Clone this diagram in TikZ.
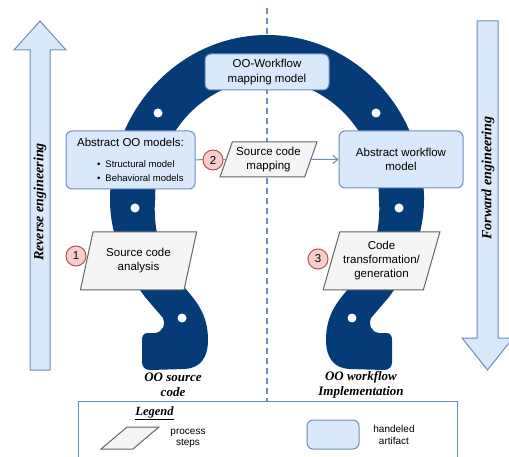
\documentclass[tikz,border=0pt]{standalone}
\usepackage{fontspec}
\setmainfont{Liberation Serif}
\setsansfont{Liberation Sans}
\usetikzlibrary{shapes.geometric,arrows.meta}
\definecolor{artFill}{HTML}{DAE8FC}
\definecolor{artLine}{HTML}{6C8EBF}
\definecolor{procFill}{HTML}{F5F5F5}
\definecolor{procLine}{HTML}{666666}
\definecolor{numFill}{HTML}{F8CECC}
\definecolor{numLine}{HTML}{B85450}
\definecolor{horse}{HTML}{053C78}
\newcommand\modelItem[1]{\fontsize{9.5}{12}\selectfont\hspace*{20pt}\textbullet\hspace{5pt}#1}
\tikzset{artifact/.style={draw=artLine, fill=artFill, rounded corners=6pt, line width=1pt,
        font=\sffamily\fontsize{11.5}{14}\selectfont, align=center},
    procstep/.style={trapezium, trapezium stretches=true, draw=procLine, fill=procFill,
        line width=1pt, inner sep=1pt, font=\sffamily\fontsize{11.5}{14}\selectfont, align=center},
    stepnum/.style={circle, draw=numLine, fill=numFill, line width=1pt, minimum size=20pt,
        inner sep=0pt, font=\sffamily\fontsize{11.5}{14}\selectfont},
    caption/.style={font=\bfseries\itshape\fontsize{13}{15}\selectfont, align=center},
    bigarrow/.style={draw=artLine, fill=artFill, line width=1pt},
    }

\begin{document}
\begin{tikzpicture}[x=1pt,y=-1pt]
	\fill[white] (0,0) rectangle (509,457);
	\useasboundingbox (0,0) rectangle (509,457);

	% reverse / forward arrows
	\draw[bigarrow] (30,370) -- (30,50) -- (14,50) -- (40,21) -- (66,50) -- (50,50) -- (50,370) -- cycle;
	\draw[bigarrow] (477,21) -- (498,21) -- (498,338) -- (513,338) -- (487.5,370) -- (462,338) -- (477,338) -- cycle;
	\node[caption, font=\bfseries\itshape\fontsize{14}{16}\selectfont, rotate=90] (revLabel) at (40,202) {Reverse engineering};
	\node[caption, font=\bfseries\itshape\fontsize{14}{16}\selectfont, rotate=90] (fwdLabel) at (488,178) {Forward engineering};

	% divider
	\draw[artLine, line width=1.4pt, dash pattern=on 6pt off 4pt] (267,8) -- (267,401);

	% horseshoe
	\fill[horse] (110,200) arc[start angle=180, end angle=0, x radius=157pt, y radius=165pt]
		-- (379,200) arc[start angle=0, end angle=180, x radius=112pt, y radius=120pt] -- cycle;
	\foreach \sh/\flip in {0/1, 534/-1}{
		\begin{scope}[xshift=\sh pt, xscale=\flip]
			\fill[horse] (110,196) -- (110,200) .. controls (110,235) and (125,270) .. (145,297)
				-- (163,318) .. controls (166,324) and (163,332) .. (155,333)
				-- (148,333) .. controls (143,333) and (142,336) .. (142,341)
				-- (142,362) .. controls (142,367) and (145,370) .. (150,370)
				-- (185,369) .. controls (200,368) and (208,358) .. (208,340)
				.. controls (208,315) and (197,302) .. (185,288)
				.. controls (162,258) and (153,235) .. (155,200) -- (155,196) -- cycle;
			\foreach \hx/\hy in {158/113, 135/208, 182/318}
				\fill[white] (\hx,\hy) circle[radius=4.5pt];
		\end{scope}
	}

	% artifacts
	\node[artifact, minimum width=129pt, minimum height=58pt, align=left] (absOO) at (130.5,160)
		{Abstract OO models:\\[7pt]\modelItem{Structural model}\\\modelItem{Behavioral models}};
	\node[artifact, minimum width=124pt, minimum height=36pt, font=\sffamily\fontsize{11.5}{15}\selectfont] (mapModel) at (267,72) {OO-Workflow\\mapping model};
	\node[artifact, minimum width=124pt, minimum height=57pt] (absFlow) at (401,159.5) {Abstract workflow\\model};

	% process steps
	\node[procstep, trapezium left angle=71, trapezium right angle=109, minimum width=117pt, minimum height=58pt] (srcAnalysis) at (138.5,261) {Source code\\analysis};
	\node[procstep, trapezium left angle=67, trapezium right angle=113, minimum width=97pt, minimum height=35pt] (srcMapping) at (268.5,159.5) {Source code\\mapping};
	\node[procstep, trapezium left angle=69, trapezium right angle=111, minimum width=117pt, minimum height=58pt] (codeGen) at (381.5,261) {Code\\transformation/\\generation};

	\draw[artLine, line width=1pt] (absOO) -- (srcMapping);
	\draw[artLine, line width=1pt, -{Straight Barb[length=5pt,width=8pt]}] (srcMapping) -- (absFlow);

	\node[stepnum] (numOne) at (76,256) {1};
	\node[stepnum] (numTwo) at (213,160) {2};
	\node[stepnum] (numThree) at (318,259) {3};

	\node[caption] (srcCode) at (173,385) {OO source\\code};
	\node[caption] (flowImpl) at (361,385) {OO workflow\\Implementation};

	% legend
	\draw[artLine, line width=1pt] (78,462) -- (78,401) -- (457,401) -- (457,462);
	\node[font=\bfseries\itshape\fontsize{12.5}{14}\selectfont] (legTitle) at (154.5,413) {\underline{Legend}};
	\node[procstep, trapezium left angle=61, trapezium right angle=119, minimum width=58pt, minimum height=22pt] (legProc) at (130,438) {\strut};
	\node[font=\sffamily\fontsize{10}{11}\selectfont, align=center] (legProcText) at (188,438) {process\\steps};
	\node[artifact, minimum width=52pt, minimum height=29pt] (legArt) at (333,434.5) {};
	\node[font=\sffamily\fontsize{10}{12}\selectfont, align=center] (legArtText) at (394,435) {handeled\\artifact};
\end{tikzpicture}
\end{document}
